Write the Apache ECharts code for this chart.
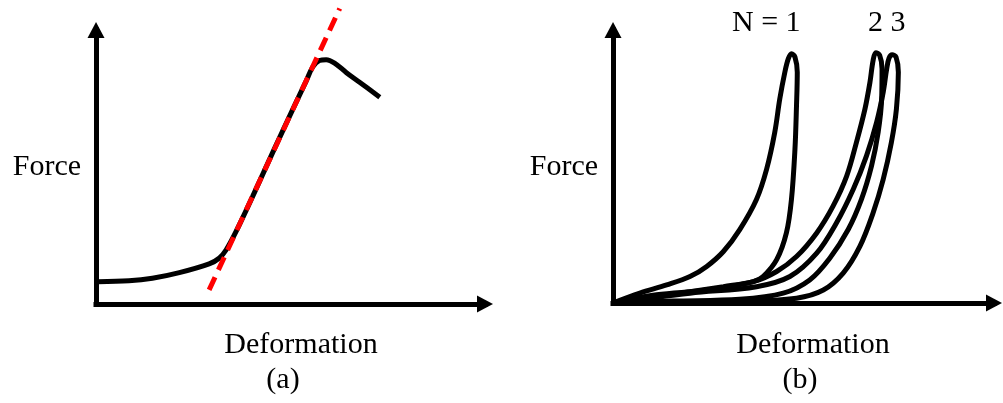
<!DOCTYPE html>
<html>
<head>
<meta charset="utf-8">
<script src="https://cdn.jsdelivr.net/npm/echarts@6/dist/echarts.min.js"></script>
<style>
  html, body { margin: 0; padding: 0; background: #fff; }
  #chart { width: 1003px; height: 403px; }
</style>
</head>
<body>
<div id="chart"></div>
<script>
// (a) monotonic loading curve: [deformation, force]
const curveA = [
  [0.5, 7.9], [8.3, 8.2], [14.2, 9.1], [21.0, 11.1], [28.5, 14.2], [31.1, 16.3],
  [32.8, 19.2], [35.3, 25.7], [39.5, 38.2], [44.5, 53.6], [49.6, 69.0], [53.0, 79.1],
  [54.6, 83.9], [56.3, 86.2], [58.0, 86.5], [60.1, 85.3], [63.1, 81.9], [66.4, 78.5],
  [71.5, 73.2]
];
// (a) linear stiffness line through the elastic part
const stiffnessA = [[28.5, 5.0], [61.4, 104.6]];

// (b) loading/unloading loops for cycles N = 1, 2, 3
const loop1 = [
  [0, 0], [6.9, 3.5], [13.8, 6.4], [19.8, 9.4], [24.1, 13.0], [28.4, 18.3], [32.6, 26.1],
  [36.9, 36.8], [39.5, 47.5], [41.6, 60.6], [42.9, 72.5], [44.2, 82.0], [45.1, 86.8],
  [45.9, 88.6], [46.8, 87.4], [47.4, 82.0], [47.2, 70.1], [46.8, 54.6], [45.9, 36.8],
  [44.6, 24.9], [42.1, 15.4], [38.6, 9.4], [36.1, 7.6], [28.4, 5.8], [19.8, 4.0],
  [11.2, 2.3], [0, 0]
];
const loop2 = [
  [0, 0], [11.2, 2.9], [24.1, 4.6], [36.1, 7.6], [42.1, 11.2], [47.2, 16.5], [52.4, 24.9],
  [56.6, 34.4], [60.1, 45.1], [62.6, 57.0], [64.8, 68.9], [66.1, 78.5], [66.9, 86.2],
  [67.6, 88.9], [68.6, 88.0], [69.2, 83.2], [69.1, 72.5], [68.2, 60.6], [66.5, 48.7],
  [63.9, 36.8], [60.5, 26.1], [55.8, 16.0], [50.6, 8.2], [43.8, 3.5], [32.6, 1.3],
  [15.5, 0.7], [0, 0]
];
const loop3 = [
  [0, 0], [19.8, 3.5], [36.9, 5.8], [45.5, 9.4], [52.4, 17.7], [57.5, 28.5], [61.8, 40.4],
  [65.2, 52.3], [67.8, 64.2], [69.5, 74.9], [70.4, 83.2], [71.0, 87.0], [71.8, 88.2],
  [72.8, 87.4], [73.4, 82.0], [72.9, 68.9], [71.6, 57.0], [69.5, 43.9], [66.9, 32.0],
  [63.5, 20.1], [59.2, 10.6], [54.1, 4.6], [47.2, 1.7], [32.6, 0.5], [0, 0]
];

// text drawn on the figure
const axisNameX = 'Deformation';
const axisNameY = 'Force';
const panelTags = ['(a)', '(b)'];
const cycleTags = ['N = 1', '2 3'];

const FONT = '30px "Liberation Serif", "Times New Roman", serif';
const INK = '#000';

function axisPair(idx, kind) {
  return {
    type: 'value', gridIndex: idx, min: 0, max: kind === 'x' ? 98 : 97,
    splitLine: { show: false }, axisTick: { show: false }, axisLabel: { show: false },
    axisLine: {
      show: true, onZero: false,
      symbol: ['none', 'triangle'], symbolSize: [17, 16],
      lineStyle: { color: INK, width: 5, cap: 'square' }
    }
  };
}

function curve(data, xi, extra) {
  return Object.assign({
    type: 'line', xAxisIndex: xi, yAxisIndex: xi, data: data,
    showSymbol: false, smooth: 0.35, silent: true,
    lineStyle: { color: INK, width: 5 }
  }, extra || {});
}

function label(text, x, y, align) {
  return {
    type: 'text', x: x, y: y, silent: true,
    style: { text: text, font: FONT, fill: INK, align: align || 'center', verticalAlign: 'middle' }
  };
}

const chart = echarts.init(document.getElementById('chart'), null, { renderer: 'canvas' });
chart.setOption({
  backgroundColor: '#fff',
  animation: false,
  grid: [
    { left: 96, top: 30, right: 518, bottom: 99 },
    { left: 613, top: 30, right: 9, bottom: 100 }
  ],
  xAxis: [axisPair(0, 'x'), axisPair(1, 'x')],
  yAxis: [axisPair(0, 'y'), axisPair(1, 'y')],
  series: [
    curve(curveA, 0),
    curve(stiffnessA, 0, {
      smooth: false, clip: false, z: 3,
      lineStyle: { color: '#ff0000', width: 5, type: [14, 8] }
    }),
    curve(loop1, 1),
    curve(loop2, 1),
    curve(loop3, 1)
  ],
  graphic: [
    label(axisNameY, 47, 167),
    label(axisNameY, 564, 167),
    label(axisNameX, 301, 345),
    label(axisNameX, 813, 345),
    label(panelTags[0], 283, 380),
    label(panelTags[1], 800, 380),
    label(cycleTags[0], 732, 23, 'left'),
    label(cycleTags[1], 868, 23, 'left')
  ]
});
</script>
</body>
</html>
